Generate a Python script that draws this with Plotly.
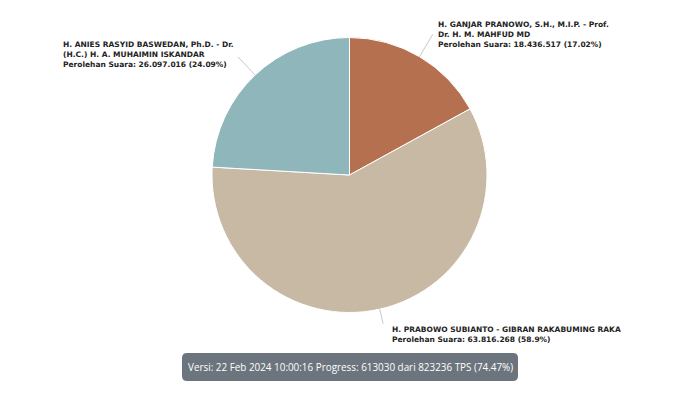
import math
import plotly.graph_objects as go

# ---- data ----
candidates = [
    "H. GANJAR PRANOWO, S.H., M.I.P. - Prof.<br>Dr. H. M. MAHFUD MD",
    "H. PRABOWO SUBIANTO - GIBRAN RAKABUMING RAKA",
    "H. ANIES RASYID BASWEDAN, Ph.D. - Dr.<br>(H.C.) H. A. MUHAIMIN ISKANDAR",
]
votes_text = ["18.436.517", "63.816.268", "26.097.016"]
votes = [18436517, 63816268, 26097016]
percent_text = ["17.02%", "58.9%", "24.09%"]
colors = ["#B5714F", "#C8B9A5", "#8FB7BB"]
status_text = "Versi: 22 Feb 2024 10:00:16 Progress: 613030 dari 823236 TPS (74.47%)"

# ---- layout constants ----
W, H = 700, 393
CX, CY, R = 349.5, 175.0, 137.5
line_len = [26, 15, 25]
label_pos = [(436, 34, "left"), (390, 334, "left"), (61, 55, "left")]

def px(x):
    return x / W

def py(y):
    return 1 - y / H

fig = go.Figure(go.Pie(
    values=votes,
    labels=[c.replace("<br>", " ") for c in candidates],
    marker=dict(colors=colors, line=dict(color="#FFFFFF", width=1)),
    sort=False,
    direction="clockwise",
    rotation=0,
    textinfo="none",
    hoverinfo="skip",
    showlegend=False,
    domain=dict(x=[px(CX - R), px(CX + R)], y=[py(CY + R), py(CY - R)]),
))

total = sum(votes)
cum = 0
shapes = []
annotations = []
for i, v in enumerate(votes):
    mid = (cum + v / 2) / total * 2 * math.pi
    cum += v
    sx, sy = CX + R * math.sin(mid), CY - R * math.cos(mid)
    ex, ey = CX + (R + line_len[i]) * math.sin(mid), CY - (R + line_len[i]) * math.cos(mid)
    shapes.append(dict(type="line", xref="paper", yref="paper",
                       x0=px(sx), y0=py(sy), x1=px(ex), y1=py(ey),
                       line=dict(color="#C8C8C8", width=1)))
    lx, ly, anchor = label_pos[i]
    annotations.append(dict(
        xref="paper", yref="paper", x=px(lx), y=py(ly),
        xanchor=anchor, yanchor="middle", align="left", showarrow=False,
        text=f"<b>{candidates[i]}<br>Perolehan Suara: {votes_text[i]} ({percent_text[i]})</b>",
        font=dict(family="DejaVu Sans", size=7.5, color="#222222"),
    ))

# status box (rounded)
bx0, bx1, by0, by1, rr = 182, 518, 353, 381, 5
path = (f"M {px(bx0+rr)},{py(by0)} L {px(bx1-rr)},{py(by0)} Q {px(bx1)},{py(by0)} {px(bx1)},{py(by0+rr)} "
        f"L {px(bx1)},{py(by1-rr)} Q {px(bx1)},{py(by1)} {px(bx1-rr)},{py(by1)} "
        f"L {px(bx0+rr)},{py(by1)} Q {px(bx0)},{py(by1)} {px(bx0)},{py(by1-rr)} "
        f"L {px(bx0)},{py(by0+rr)} Q {px(bx0)},{py(by0)} {px(bx0+rr)},{py(by0)} Z")
shapes.append(dict(type="path", xref="paper", yref="paper", path=path,
                   fillcolor="#6C757D", line=dict(width=0)))
annotations.append(dict(
    xref="paper", yref="paper", x=px((bx0 + bx1) / 2), y=py((by0 + by1) / 2),
    xanchor="center", yanchor="middle", showarrow=False, text=status_text,
    font=dict(family="Open Sans, Noto Sans", size=9.9, color="#FFFFFF"),
))

fig.update_layout(
    width=W, height=H,
    margin=dict(l=0, r=0, t=0, b=0),
    paper_bgcolor="#FFFFFF", plot_bgcolor="#FFFFFF",
    shapes=shapes, annotations=annotations,
)
fig.write_html("out.html", config={"displayModeBar": False})
